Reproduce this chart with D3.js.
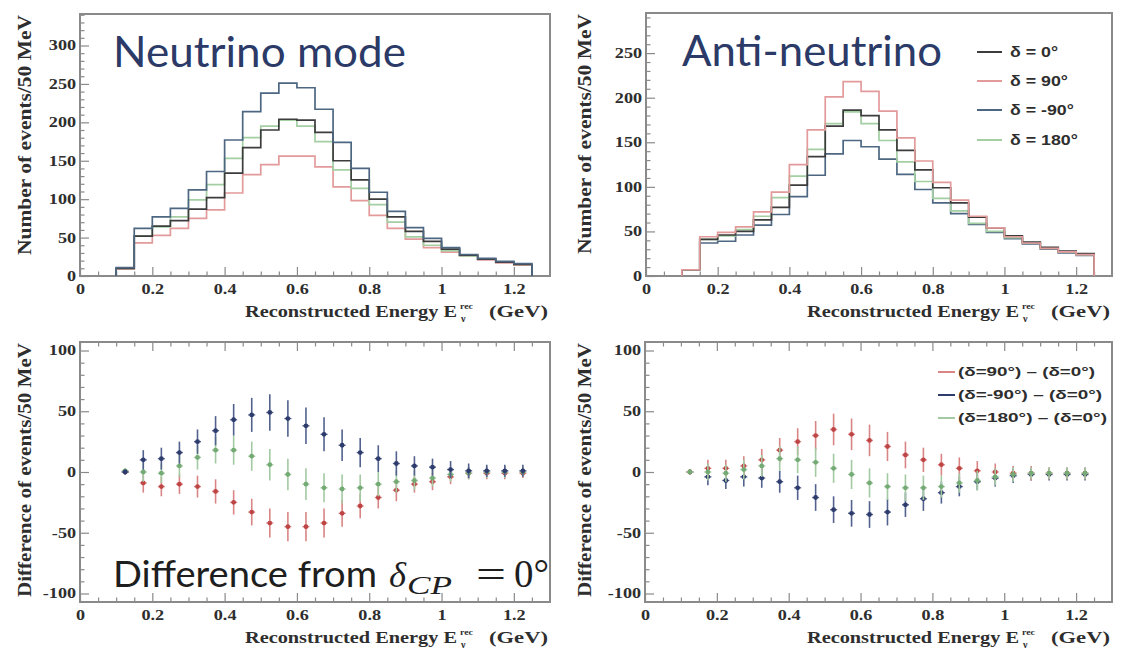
<!DOCTYPE html>
<html>
<head>
<meta charset="utf-8">
<script src="https://cdn.jsdelivr.net/npm/d3@7"></script>
<style>
  html, body { margin: 0; padding: 0; background: #fff; }
  svg { display: block; }
</style>
</head>
<body>
<svg id="chart" width="1125" height="664"></svg>
<script>
// ---------------- DATA ----------------
const binEdges = [0.10, 0.15, 0.20, 0.25, 0.30, 0.35, 0.40, 0.45, 0.50, 0.55, 0.60, 0.65,
                  0.70, 0.75, 0.80, 0.85, 0.90, 0.95, 1.00, 1.05, 1.10, 1.15, 1.20, 1.25];

const xTickValues = [0, 0.2, 0.4, 0.6, 0.8, 1.0, 1.2];
const xTickLabels = ["0", "0.2", "0.4", "0.6", "0.8", "1", "1.2"];
const yTicksNu = [0, 50, 100, 150, 200, 250, 300];
const yTickLabelsNu = ["0", "50", "100", "150", "200", "250", "300"];
const yTicksAnu = [0, 50, 100, 150, 200, 250];
const yTickLabelsAnu = ["0", "50", "100", "150", "200", "250"];
const yTicksDiff = [-100, -50, 0, 50, 100];
const yTickLabelsDiff = ["-100", "-50", "0", "50", "100"];

// Neutrino mode: events / 50 MeV
const nuDelta0    = [10, 52, 65, 72, 87, 102, 134, 167, 190, 204, 203, 187, 150, 125, 100, 77, 58, 45, 35, 27, 22, 18, 15];
const nuDelta90   = [9, 43, 53, 62, 75, 86, 108, 132, 145, 156, 156, 142, 116, 98, 79, 62, 48, 37, 31, 26, 21, 17, 14];
const nuDeltaM90  = [11, 62, 77, 88, 112, 136, 177, 214, 238, 251, 245, 217, 174, 140, 109, 84, 63, 49, 37, 28, 23, 19, 16];
const nuDelta180  = [10, 52, 64, 77, 99, 119, 153, 180, 195, 203, 195, 175, 138, 114, 93, 70, 51, 40, 33, 26, 22, 18, 15];

// Anti-neutrino mode: events / 50 MeV
const anuDelta0   = [7, 41, 46, 50, 63, 77, 102, 134, 168, 186, 180, 164, 141, 119, 99, 82, 66, 54, 45, 38, 32, 28, 25];
const anuDelta90  = [7, 44, 49, 55, 72, 94, 125, 164, 201, 218, 207, 185, 155, 129, 105, 85, 67, 54, 44, 37, 31, 27, 24];
const anuDeltaM90 = [7, 37, 39, 46, 57, 69, 89, 113, 137, 152, 145, 131, 114, 97, 82, 70, 58, 49, 42, 36, 30, 26, 23];
const anuDelta180 = [7, 41, 45, 52, 67, 88, 112, 142, 171, 184, 171, 152, 128, 106, 87, 73, 59, 50, 43, 37, 31, 27, 24];

// Neutrino mode differences from delta = 0
const nuDiff90     = [0, -9, -12, -10, -12, -16, -25, -33, -42, -45, -45, -42, -34, -28, -21, -15, -10, -8, -4, -1, -1, -1, -1];
const nuDiff90Err  = [2, 8, 8, 8, 9, 10, 10, 11, 12, 12, 12, 12, 11, 10, 9, 9, 7, 7, 6, 5, 5, 5, 4];
const nuDiffM90    = [0, 10, 11, 16, 25, 34, 43, 47, 49, 44, 38, 31, 22, 16, 11, 7, 5, 4, 2, 1, 1, 1, 1];
const nuDiffM90Err = [2, 8, 9, 9, 10, 12, 13, 14, 15, 15, 15, 14, 13, 12, 11, 10, 8, 7, 7, 6, 5, 5, 5];
const nuDiff180    = [1, 0, -1, 5, 12, 18, 18, 13, 6, -2, -10, -13, -14, -13, -10, -8, -7, -5, -2, -1, 0, 0, 0];
const nuDiff180Err = [2, 8, 8, 9, 10, 11, 12, 12, 13, 13, 13, 12, 12, 11, 10, 9, 8, 7, 6, 5, 5, 5, 4];

// Anti-neutrino mode differences from delta = 0
const anuDiff90     = [0, 3, 3, 5, 10, 18, 25, 30, 35, 31, 26, 21, 14, 10, 6, 3, 1, 0, -1, -1, -1, -1, -1];
const anuDiff90Err  = [2, 7, 7, 8, 9, 10, 11, 12, 13, 13, 13, 12, 11, 10, 9, 9, 8, 7, 6, 6, 5, 5, 5];
const anuDiffM90    = [0, -4, -7, -4, -5, -8, -13, -21, -31, -34, -35, -33, -27, -22, -17, -12, -8, -5, -3, -2, -2, -2, -2];
const anuDiffM90Err = [2, 7, 7, 8, 8, 9, 10, 11, 11, 11, 11, 11, 10, 10, 9, 8, 7, 7, 6, 5, 5, 5, 5];
const anuDiff180    = [0, 0, -1, 2, 5, 11, 10, 8, 3, -2, -9, -12, -13, -13, -12, -9, -7, -4, -2, -1, -1, -1, -1];
const anuDiff180Err = [2, 7, 7, 8, 9, 10, 11, 12, 12, 12, 12, 11, 11, 10, 9, 8, 8, 7, 6, 5, 5, 5, 5];

const histLegendLabels = ["\u03b4 = 0\u00b0", "\u03b4 = 90\u00b0", "\u03b4 = -90\u00b0", "\u03b4 = 180\u00b0"];
const diffLegendLabels = ["(\u03b4=90\u00b0) \u2013 (\u03b4=0\u00b0)", "(\u03b4=-90\u00b0) \u2013 (\u03b4=0\u00b0)", "(\u03b4=180\u00b0) \u2013 (\u03b4=0\u00b0)"];

// ---------------- STYLE ----------------
const SERIF = "'Liberation Serif','Times New Roman',serif";
const SANS = "'Liberation Sans',Arial,sans-serif";
const TITLE_FONT = "Lato,'Open Sans',sans-serif";
const TXT = "#2e2e2e";
const FRAME = "#8a8a8a";
const C = {
  black: "#3c3c3c",
  red: "#e39a9a",
  blue: "#4d6782",
  green: "#a3cfa3",
  mRed: "#bf4545", bRed: "#d98585",
  mBlue: "#2d3c6c", bBlue: "#52618e",
  mGreen: "#74aa74", bGreen: "#a2c9a2"
};
const STRETCH = 1.3;

const svg = d3.select("#chart");
svg.append("rect").attr("width", 1125).attr("height", 664).attr("fill", "#fff");

function makePanel(p) {
  const g = svg.append("g");
  const x = d3.scaleLinear().domain([0, 1.3]).range([p.left, p.right]);
  const y = d3.scaleLinear().domain(p.yDomain).range([p.bottom, p.top]);
  const xMinor = d3.range(0.05, 1.3, 0.05).filter(v => Math.abs(v * 5 - Math.round(v * 5)) > 1e-6);
  const yMinor = d3.range(p.yDomain[0] < 0 ? -100 : 0, p.yDomain[1], 10)
                   .filter(v => v % 50 !== 0 && v > p.yDomain[0] && v < p.yDomain[1]);

  // minor ticks
  g.append("g").attr("transform", `translate(0,${p.bottom})`)
    .call(d3.axisBottom(x).tickValues(xMinor).tickFormat("").tickSize(-4.5))
    .call(a => a.select(".domain").remove());
  g.append("g").attr("transform", `translate(${p.left},0)`)
    .call(d3.axisLeft(y).tickValues(yMinor).tickFormat("").tickSize(-4.5))
    .call(a => a.select(".domain").remove());
  if (p.topTicks) {
    g.append("g").attr("transform", `translate(0,${p.top})`)
      .call(d3.axisTop(x).tickValues(xMinor).tickFormat("").tickSize(-4.5))
      .call(a => a.select(".domain").remove());
    g.append("g").attr("transform", `translate(0,${p.top})`)
      .call(d3.axisTop(x).tickValues(xTickValues).tickFormat("").tickSize(-9))
      .call(a => a.select(".domain").remove());
  }
  // major ticks + labels
  const gx = g.append("g").attr("transform", `translate(0,${p.bottom})`)
    .call(d3.axisBottom(x).tickValues(xTickValues).tickFormat((d, i) => xTickLabels[i]).tickSize(-9).tickPadding(8));
  gx.select(".domain").remove();
  const gy = g.append("g").attr("transform", `translate(${p.left},0)`)
    .call(d3.axisLeft(y).tickValues(p.yTicks).tickFormat((d, i) => p.yTickLabels[i]).tickSize(-9).tickPadding(3));
  gy.select(".domain").remove();
  g.selectAll(".tick line").attr("stroke", FRAME).attr("stroke-width", 1.2);
  [gx, gy].forEach(a => a.selectAll("text")
    .attr("font-family", SERIF).attr("font-weight", "bold").attr("font-size", 14)
    .attr("fill", TXT).attr("transform", `scale(${STRETCH},1)`));

  // frame
  g.append("rect").attr("x", p.left).attr("y", p.top)
    .attr("width", p.right - p.left).attr("height", p.bottom - p.top)
    .attr("fill", "none").attr("stroke", FRAME).attr("stroke-width", 2);

  // x title
  const xr = p.right - 2, yb = p.bottom + 41;
  const xt = g.append("g").attr("font-family", SERIF).attr("font-weight", "bold").attr("fill", TXT);
  xt.append("text").attr("x", xr - 303).attr("y", yb).attr("font-size", 17)
    .attr("textLength", 212).attr("lengthAdjust", "spacingAndGlyphs").text("Reconstructed Energy E");
  xt.append("text").attr("x", xr - 88).attr("y", yb - 8).attr("font-size", 9)
    .attr("textLength", 13).attr("lengthAdjust", "spacingAndGlyphs").text("rec");
  xt.append("text").attr("x", xr - 87).attr("y", yb + 5).attr("font-size", 10).text("\u03bd");
  xt.append("text").attr("x", xr).attr("y", yb).attr("font-size", 17).attr("text-anchor", "end")
    .attr("textLength", 59).attr("lengthAdjust", "spacingAndGlyphs").text("(GeV)");

  // y title
  g.append("g").attr("transform", `translate(${p.yTitleX},${p.top + 1}) scale(1.2,1)`)
    .append("text").attr("transform", "rotate(-90)")
    .attr("text-anchor", "end").attr("dy", "0.33em")
    .attr("font-family", SERIF).attr("font-weight", "bold").attr("font-size", 16).attr("fill", TXT)
    .attr("textLength", p.yTitleLen).attr("lengthAdjust", "spacingAndGlyphs")
    .text(p.yTitle);

  return { g, x, y };
}

function drawHist(P, vals, color) {
  const pts = [[binEdges[0], 0]];
  vals.forEach((v, i) => pts.push([binEdges[i], v]));
  pts.push([binEdges[vals.length], vals[vals.length - 1]]);
  pts.push([binEdges[vals.length], 0]);
  const line = d3.line().x(d => P.x(d[0])).y(d => P.y(d[1])).curve(d3.curveStepAfter);
  P.g.append("path").attr("d", line(pts)).attr("fill", "none")
    .attr("stroke", color).attr("stroke-width", 1.7);
}

function drawErr(P, vals, errs, mColor, bColor) {
  const rows = vals.map((v, i) => ({ c: (binEdges[i] + binEdges[i + 1]) / 2, v, e: errs[i] }));
  const gg = P.g.append("g");
  gg.selectAll("line.ev").data(rows).join("line").attr("class", "ev")
    .attr("x1", d => P.x(d.c)).attr("x2", d => P.x(d.c))
    .attr("y1", d => P.y(d.v - d.e)).attr("y2", d => P.y(d.v + d.e))
    .attr("stroke", bColor).attr("stroke-width", 1.6);
  gg.selectAll("line.eh").data(rows).join("line").attr("class", "eh")
    .attr("x1", d => P.x(d.c) - 3.5).attr("x2", d => P.x(d.c) + 3.5)
    .attr("y1", d => P.y(d.v)).attr("y2", d => P.y(d.v))
    .attr("stroke", bColor).attr("stroke-width", 1.4);
  gg.selectAll("circle").data(rows).join("circle")
    .attr("cx", d => P.x(d.c)).attr("cy", d => P.y(d.v)).attr("r", 2.4)
    .attr("fill", mColor);
}

// ---------------- PANELS ----------------
const TL = makePanel({ left: 80, right: 550, top: 14, bottom: 276, yDomain: [0, 341],
  yTicks: yTicksNu, yTickLabels: yTickLabelsNu, yTitle: "Number of events/50 MeV", yTitleX: 25, yTitleLen: 240 });
const TR = makePanel({ left: 646, right: 1112, top: 13, bottom: 276, yDomain: [0, 295],
  yTicks: yTicksAnu, yTickLabels: yTickLabelsAnu, yTitle: "Number of events/50 MeV", yTitleX: 585, yTitleLen: 240 });
const BL = makePanel({ left: 80, right: 550, top: 342, bottom: 602, yDomain: [-107, 107], topTicks: true,
  yTicks: yTicksDiff, yTickLabels: yTickLabelsDiff, yTitle: "Difference of events/50 MeV", yTitleX: 25, yTitleLen: 254 });
const BR = makePanel({ left: 645, right: 1112, top: 342, bottom: 602, yDomain: [-107, 107], topTicks: true,
  yTicks: yTicksDiff, yTickLabels: yTickLabelsDiff, yTitle: "Difference of events/50 MeV", yTitleX: 585, yTitleLen: 254 });

// histograms
drawHist(TL, nuDelta90, C.red);
drawHist(TL, nuDelta180, C.green);
drawHist(TL, nuDelta0, C.black);
drawHist(TL, nuDeltaM90, C.blue);

drawHist(TR, anuDeltaM90, C.blue);
drawHist(TR, anuDelta180, C.green);
drawHist(TR, anuDelta0, C.black);
drawHist(TR, anuDelta90, C.red);

// differences
drawErr(BL, nuDiff90, nuDiff90Err, C.mRed, C.bRed);
drawErr(BL, nuDiff180, nuDiff180Err, C.mGreen, C.bGreen);
drawErr(BL, nuDiffM90, nuDiffM90Err, C.mBlue, C.bBlue);

drawErr(BR, anuDiffM90, anuDiffM90Err, C.mBlue, C.bBlue);
drawErr(BR, anuDiff90, anuDiff90Err, C.mRed, C.bRed);
drawErr(BR, anuDiff180, anuDiff180Err, C.mGreen, C.bGreen);

// ---------------- TITLES ----------------
svg.append("text").attr("x", 113).attr("y", 67).attr("font-family", TITLE_FONT).attr("font-size", 42)
  .attr("fill", "#2b3a67").attr("textLength", 293).attr("lengthAdjust", "spacingAndGlyphs").text("Neutrino mode");
svg.append("text").attr("x", 682).attr("y", 66).attr("font-family", TITLE_FONT).attr("font-size", 42)
  .attr("fill", "#2b3a67").attr("textLength", 260).attr("lengthAdjust", "spacingAndGlyphs").text("Anti-neutrino");

const dt = svg.append("g").attr("fill", "#1e1e1e");
dt.append("text").attr("x", 113).attr("y", 587).attr("font-family", TITLE_FONT).attr("font-size", 36)
  .attr("textLength", 264).attr("lengthAdjust", "spacingAndGlyphs").text("Difference from");
dt.append("text").attr("x", 389).attr("y", 587).attr("font-family", SERIF).attr("font-style", "italic").attr("font-size", 36)
  .attr("textLength", 17).attr("lengthAdjust", "spacingAndGlyphs").text("\u03b4");
dt.append("text").attr("x", 407).attr("y", 594).attr("font-family", SERIF).attr("font-style", "italic").attr("font-size", 25)
  .attr("textLength", 45).attr("lengthAdjust", "spacingAndGlyphs").text("CP");
dt.append("text").attr("x", 476).attr("y", 587).attr("font-family", SERIF).attr("font-size", 38)
  .attr("textLength", 30).attr("lengthAdjust", "spacingAndGlyphs").text("=");
dt.append("text").attr("x", 514).attr("y", 587).attr("font-family", SERIF).attr("font-size", 40)
  .attr("textLength", 35).attr("lengthAdjust", "spacingAndGlyphs").text("0\u00b0");

// ---------------- LEGENDS ----------------
const histLegendColors = [C.black, C.red, C.blue, C.green];
const histLegendRows = [52, 81, 110, 140];
const lg1 = svg.append("g");
histLegendLabels.forEach((lab, i) => {
  lg1.append("line").attr("x1", 977).attr("x2", 1002).attr("y1", histLegendRows[i]).attr("y2", histLegendRows[i])
    .attr("stroke", histLegendColors[i]).attr("stroke-width", 2);
  lg1.append("g").attr("transform", `translate(1010,${histLegendRows[i]}) scale(1.27,1)`)
    .append("text").attr("dy", "0.36em").attr("font-family", SANS).attr("font-weight", "bold")
    .attr("font-size", 14).attr("fill", TXT).text(lab);
});

const diffLegendColors = [C.bRed, C.mBlue, C.bGreen];
const diffLegendRows = [372, 395, 418];
const diffLegendLens = [137, 144, 149];
const lg2 = svg.append("g");
diffLegendLabels.forEach((lab, i) => {
  lg2.append("line").attr("x1", 938).attr("x2", 955).attr("y1", diffLegendRows[i]).attr("y2", diffLegendRows[i])
    .attr("stroke", diffLegendColors[i]).attr("stroke-width", 2);
  lg2.append("text").attr("x", 958).attr("y", diffLegendRows[i]).attr("dy", "0.36em")
    .attr("font-family", SANS).attr("font-weight", "bold").attr("font-size", 12).attr("fill", TXT)
    .attr("textLength", diffLegendLens[i]).attr("lengthAdjust", "spacingAndGlyphs").text(lab);
});
</script>
</body>
</html>
